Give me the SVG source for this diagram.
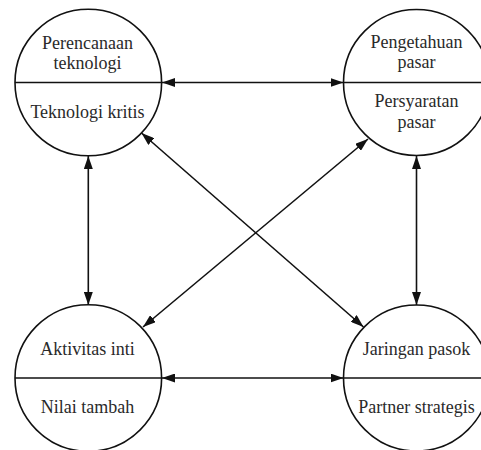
<svg xmlns="http://www.w3.org/2000/svg" width="481" height="450" viewBox="0 0 481 450">
  <style>
    .node { fill: #ffffff; stroke: #111; stroke-width: 1.6; }
    .divider { stroke: #111; stroke-width: 1.6; fill: none; }
    .label { font-family: "Liberation Serif", "Times New Roman", serif; font-size: 18px; fill: #2a2a2a; text-anchor: middle; }
    .link { stroke: #111; stroke-width: 1.6; fill: none; marker-start: url(#arrow); marker-end: url(#arrow); }
  </style>
  <defs>
    <marker id="arrow" viewBox="0 0 13 9" refX="13" refY="4.5" markerWidth="13" markerHeight="9" markerUnits="userSpaceOnUse" orient="auto-start-reverse">
      <path d="M0,0 L13,4.5 L0,9 z" fill="#111"/>
    </marker>
  </defs>
  <rect width="481" height="450" fill="#ffffff"/>

  <g id="connectors">
    <line class="link" x1="162" y1="82.5" x2="343.5" y2="82.5"/>
    <line class="link" x1="162" y1="378" x2="343.5" y2="378"/>
    <line class="link" x1="88.3" y1="156" x2="88.3" y2="305"/>
    <line class="link" x1="416.5" y1="156" x2="416.5" y2="305"/>
    <line class="link" x1="141.5" y1="133" x2="363.5" y2="327"/>
    <line class="link" x1="368" y1="139" x2="143" y2="327"/>
  </g>

  <g id="perencanaan-teknologi">
    <circle class="node" cx="88.3" cy="82.5" r="73.3"/>
    <line class="divider" x1="15" y1="82.5" x2="161.6" y2="82.5"/>
    <text class="label" x="87.5" y="48.5">Perencanaan</text>
    <text class="label" x="87.5" y="68.5">teknologi</text>
    <text class="label" x="87.5" y="118">Teknologi kritis</text>
  </g>

  <g id="pengetahuan-pasar">
    <circle class="node" cx="416.5" cy="82.5" r="73"/>
    <line class="divider" x1="343.5" y1="82.5" x2="481" y2="82.5"/>
    <text class="label" x="416.5" y="47.5">Pengetahuan</text>
    <text class="label" x="416.5" y="68">pasar</text>
    <text class="label" x="416.5" y="107">Persyaratan</text>
    <text class="label" x="416.5" y="127.5">pasar</text>
  </g>

  <g id="aktivitas-inti">
    <circle class="node" cx="88.3" cy="378" r="73.3"/>
    <line class="divider" x1="15" y1="378" x2="161.6" y2="378"/>
    <text class="label" x="87.5" y="355">Aktivitas inti</text>
    <text class="label" x="87.5" y="413">Nilai tambah</text>
  </g>

  <g id="jaringan-pasok">
    <circle class="node" cx="416.5" cy="378" r="73"/>
    <line class="divider" x1="343.5" y1="378" x2="481" y2="378"/>
    <text class="label" x="416.5" y="355">Jaringan pasok</text>
    <text class="label" x="416.5" y="413">Partner strategis</text>
  </g>
</svg>
